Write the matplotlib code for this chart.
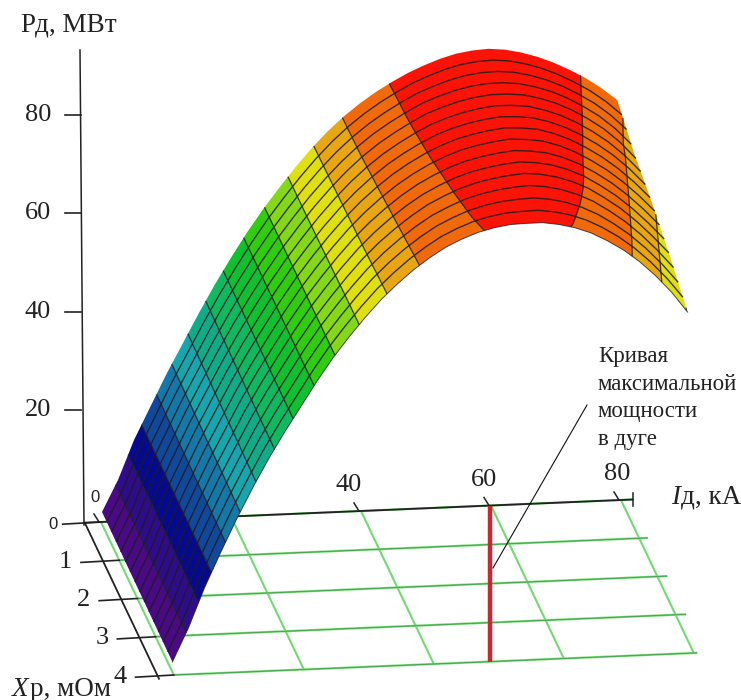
import numpy as np
import matplotlib
matplotlib.use("Agg")
import matplotlib.pyplot as plt

# --- data ---
ID_KA = [0, 2.5, 5, 7.5, 10, 12.5, 15, 17.5, 20, 22.5, 25, 27.5, 30, 32.5, 35, 37.5, 40,
         42.5, 45, 47.5, 50, 52.5, 55, 57.5, 60, 62.5, 65, 67.5, 70, 72.5, 75, 77.5, 80]
XP_MOHM = [0, 1, 2, 3, 4]
P_X0 = [-0.4, 6, 14, 20.5, 27, 33, 39, 44.7, 50, 55, 59.6, 63.8, 67.8, 71.5, 74.8, 77.7, 80.2,
        82.4, 84.3, 86, 87.4, 88.6, 89.5, 90, 90.2, 89.9, 89.2, 88.2, 86.9, 85.3, 83.5, 81.3, 78.7]
P_X1 = [-0.5, 6, 14, 20.6, 27.2, 33.2, 39.2, 44.8, 50, 55, 59.6, 63.8, 67.8, 71.4, 74.7, 77.6, 80.1,
        82.2, 84.1, 85.8, 87, 88, 88.7, 89.1, 89.1, 88.8, 88, 86.9, 85.4, 83.5, 81.3, 78.5, 75]
P_X2 = [-0.6, 6, 14, 20.8, 27.4, 33.4, 39.4, 44.9, 50, 55, 59.6, 63.8, 67.7, 71.3, 74.5, 77.3, 79.8,
        81.9, 83.7, 85.2, 86.4, 87.2, 87.8, 88.2, 88, 87.6, 86.6, 85.2, 83.4, 81.3, 78.8, 75.9, 72.6]
P_X3 = [-0.7, 6, 14, 20.9, 27.5, 33.6, 39.6, 45, 50, 55, 59.6, 63.7, 67.6, 71.2, 74.3, 77, 79.4,
        81.5, 83.1, 84.5, 85.5, 86.2, 86.7, 87, 86.7, 86, 84.9, 83.4, 81.3, 79, 76.2, 73, 69.5]
P_X4 = [-0.8, 6, 14, 21, 27.7, 33.9, 39.7, 45, 50, 55, 59.6, 63.7, 67.5, 71, 74, 76.7, 79,
        81, 82.5, 83.7, 84.5, 85, 85.1, 85.1, 84.6, 83.8, 82.6, 80.9, 78.9, 76.4, 73.4, 69.9, 65.7]
P_LEVELS = [5, 11, 17, 23, 29, 35, 41.5, 47.5, 54, 60, 66, 72, 77.5, 84]
BAND_COLORS = ['#4B0A85', '#2F0C8A', '#060A90', '#10489C', '#1478A8', '#18A6AE', '#10AC88',
               '#10B860', '#10C030', '#30CC10', '#84D818', '#E0E010', '#E8A612', '#F06A0C', '#FA1408']
# thin lines on the surface: iso-lines of Xp, 15 intervals counted in the picture
HATCH_COUNT = 15
MAX_POWER_ID = [59.85, 57.05, 54.25, 51.45, 48.65]
GRID_ID = [0, 20, 40, 60, 80]
GRID_ROW_END = [81.8, 81.3, 81.5, 81.6, 80.5]
Z_TICKS = [20, 40, 60, 80]
ID_TICKS = [0, 40, 60, 80]
ID_LABEL_DX = [-6, -12, -7, -4]

plt.rcParams['font.family'] = ['Liberation Serif', 'DejaVu Serif']

fig = plt.figure(figsize=(7.41, 7.00), dpi=100)
ax = fig.add_axes([0, 0, 1, 1])
ax.set_xlim(0, 741)
ax.set_ylim(700, 0)
ax.axis('off')
INK = '#222222'


def surf(i, x, p):
    """Oblique view of the surface: (Id, Xp, P) -> picture position."""
    i, x, p = np.asarray(i, float), np.asarray(x, float), np.asarray(p, float)
    return 102 + 6.44 * i + 17.6 * x, 510 - 0.275 * i + 37 * x - 4.93 * p


def floor(i, x):
    """Same view for the floor grid, which sits a little below P = 0."""
    i, x = np.asarray(i, float), np.asarray(x, float)
    return 101 + 6.5 * i + 18.2 * x, 522 - 0.275 * i + 38.25 * x


GREEN = '#72DA72'
# floor grid
for xp, end in zip(XP_MOHM, GRID_ROW_END):
    gx, gy = floor([0, end], [xp, xp])
    ax.plot(gx, gy, color=GREEN, lw=1.6, zorder=1, solid_capstyle='butt')
    ax.plot(gx, gy, color='#3E8E4A', lw=0.5, zorder=1.1)
for idv in GRID_ID:
    gx, gy = floor([idv, idv], [0, 4])
    ax.plot(gx, gy, color=GREEN, lw=1.5, zorder=1, solid_capstyle='butt')

# black axes
ax.plot(*floor([-2.5, 81.8], [0, 0]), color=INK, lw=1.3, zorder=2)
ax.plot(*floor([-2.5, -2.5], [0, 4.08]), color=INK, lw=1.3, zorder=2)
ex, ey = floor(81.8, 0)
ax.plot([ex, ex], [ey - 7, ey + 6], color=INK, lw=1.1, zorder=2)
ax.plot([84, 80], [525, 50], color=INK, lw=1.1, zorder=2)

# P axis
for z in Z_TICKS:
    y = 509 - 4.93 * z
    ax.plot([65, 81], [y, y], color=INK, lw=1.2, zorder=2)
    ax.text(51, y, str(z), ha='right', va='center', fontsize=19, color=INK)

# Xp axis
for xp in XP_MOHM:
    ax0, ay0 = floor(-2.5, xp)
    ex0, ey0 = floor(0, xp)
    ax.plot([ax0 - 22, ex0], [ay0 + 1.5, ey0], color=INK, lw=1.2, zorder=2)
    if xp == 0:
        ax.text(ax0 - 27, ay0 + 2, '0', ha='right', va='center', fontsize=12,
                family='Liberation Sans', color=INK)
    else:
        ax.text(ax0 - 31, ay0 + 1, str(xp), ha='right', va='center', fontsize=19, color=INK)

# Id axis
for idv, dx in zip(ID_TICKS, ID_LABEL_DX):
    tx, ty = floor(idv, 0)
    ax.plot([tx - 7, tx - 2], [ty - 8, ty], color=INK, lw=1.1, zorder=2)
    if idv == 0:
        ax.text(tx + dx, ty - 25, '0', ha='center', va='center', fontsize=12,
                family='Liberation Sans', color=INK)
    else:
        ax.text(tx + dx, ty - 26, str(idv), ha='center', va='center', fontsize=19, color=INK)

# max-power curve on the floor
ax.plot(*floor(MAX_POWER_ID, XP_MOHM), color='#C8282E', lw=3.2, zorder=3, solid_capstyle='butt')
ax.plot([587, 493], [405, 568], color='#111111', lw=0.8, zorder=3)

# surface
I_GRID, X_GRID = np.meshgrid(ID_KA, XP_MOHM)
P_GRID = np.array([P_X0, P_X1, P_X2, P_X3, P_X4])
PX, PY = surf(I_GRID, X_GRID, P_GRID)
levels = [-5] + P_LEVELS + [95]
ax.contourf(PX, PY, P_GRID, levels=levels, colors=BAND_COLORS, zorder=4, antialiased=True)
ax.contour(PX, PY, P_GRID, levels=P_LEVELS, colors='#1c1c1c', linewidths=0.9, alpha=0.85, zorder=5)
hatch_levels = [4 * k / HATCH_COUNT for k in range(1, HATCH_COUNT)]
ax.contour(PX, PY, X_GRID, levels=hatch_levels, colors='#1c1c1c', linewidths=1.0, alpha=0.85, zorder=5)
ax.plot(PX[-1], PY[-1], color='#1c1c1c', lw=0.7, alpha=0.8, zorder=5)


def label(x, y, italic, rest, size=19.5):
    """Axis title with an italic first letter, followed by upright text."""
    t = ax.text(x, y, italic, ha='left', va='center', fontsize=size, style='italic', color=INK)
    fig.canvas.draw()
    bb = t.get_window_extent()
    x2 = ax.transData.inverted().transform((bb.x1, bb.y0))[0]
    ax.text(x2 + 1, y, rest, ha='left', va='center', fontsize=size, color=INK)


ax.text(21, 25, 'Рд, МВт', ha='left', va='center', fontsize=19.5, color=INK)
label(12, 689, 'X', 'р, мОм')
label(671, 497, 'I', 'д, кА')
ax.text(598, 398, 'Кривая\nмаксимальной\nмощности\nв дуге', ha='left', va='center',
        fontsize=16.5, linespacing=1.43, color=INK)

fig.savefig('out.png', dpi=100)
